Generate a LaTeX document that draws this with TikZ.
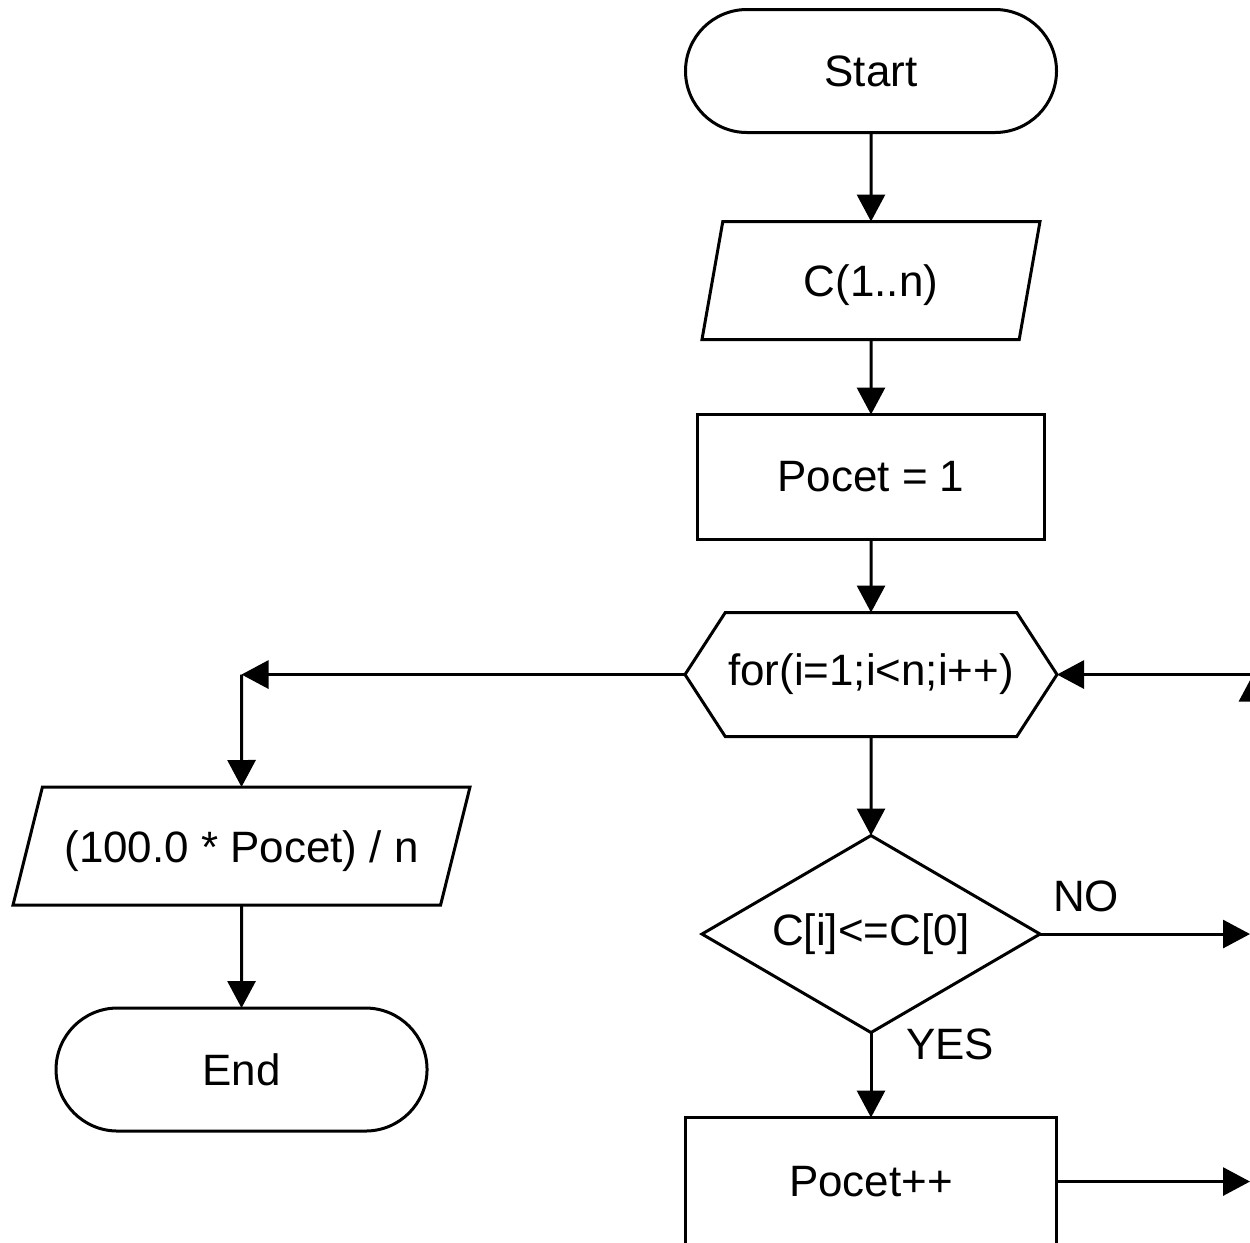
\documentclass[tikz,border=0pt]{standalone}
\usepackage{fontspec}
\setmainfont{Liberation Sans}
\usetikzlibrary{arrows.meta,positioning,shapes.geometric,shapes.symbols,calc}
\tikzset{%
  link/.style={-{Triangle[length=0.54cm,width=0.56cm]},line width=0.06cm},
  box/.style={draw,line width=0.06cm,align=center,inner sep=0pt,outer sep=0pt,font=\fontsize{25}{30}\selectfont},
  term/.style={box,rectangle,rounded corners=1.23cm,minimum width=7.42cm,minimum height=2.46cm},
  io/.style={box,trapezium,trapezium stretches body=true,text height=0.72cm,text depth=0.08cm,inner ysep=0.78cm,inner xsep=0.2cm},
  proc/.style={box,rectangle,minimum height=2.5cm},
  loopbox/.style={box,signal,signal to=east and west,signal pointer angle=114,minimum width=7.44cm,minimum height=2.48cm},
  test/.style={box,diamond,shape aspect=1.72,minimum width=6.76cm,minimum height=3.94cm},
  lbl/.style={inner sep=0pt,font=\fontsize{25}{30}\selectfont}
}
\begin{document}
\begin{tikzpicture}
 \useasboundingbox (0,0) rectangle (25,-24.84);
 \clip (0,0) rectangle (25,-24.84);

 % main column
 \node[term] (start) at (17.42,-1.42) {Start};
 \node[io, trapezium left angle=80, trapezium right angle=100, minimum width=6.76cm, below=1.78cm of start] (data) {C(1..n)};
 \node[proc, minimum width=6.94cm, below=1.5cm of data] (init) {Pocet = 1};
 \node[loopbox, below=1.46cm of init] (loop) {for(i=1;i<n;i++)};
 \node[test, below=1.98cm of loop] (cond) {C[i]<=C[0]};
 \node[proc, minimum width=7.42cm, minimum height=2.56cm, below=1.7cm of cond] (inc) {Pocet++};

 % left column
 \node[io, trapezium left angle=76, trapezium right angle=104, minimum width=9.14cm] (out) at (4.83,-16.92) {(100.0 * Pocet) / n};
 \node[term, below=2.06cm of out] (end) {End};

 \coordinate (redge) at (25,0);
 \coordinate (rback) at (25.06,0);
 \coordinate (lcorner) at (out |- loop.west);

 \draw[link] (start) -- (data);
 \draw[link] (data) -- (init);
 \draw[link] (init) -- (loop);
 \draw[link] (loop) -- (cond);
 \draw[link] (cond) -- node[lbl, pos=0.14, xshift=1.58cm] {YES} (inc);
 \draw[link] (cond.east) -- node[lbl, pos=0.22, yshift=0.76cm] {NO} (cond.east -| redge);
 \draw[link] (inc.east) -- (inc.east -| redge);
 \draw[link] (rback |- inc.east) -- (rback |- loop.east);
 \draw[link] (rback |- loop.east) -- (loop.east);
 \draw[link] (loop.west) -- (lcorner);
 \draw[link] (lcorner) -- (out);
 \draw[link] (out) -- (end);

\end{tikzpicture}
\end{document}
